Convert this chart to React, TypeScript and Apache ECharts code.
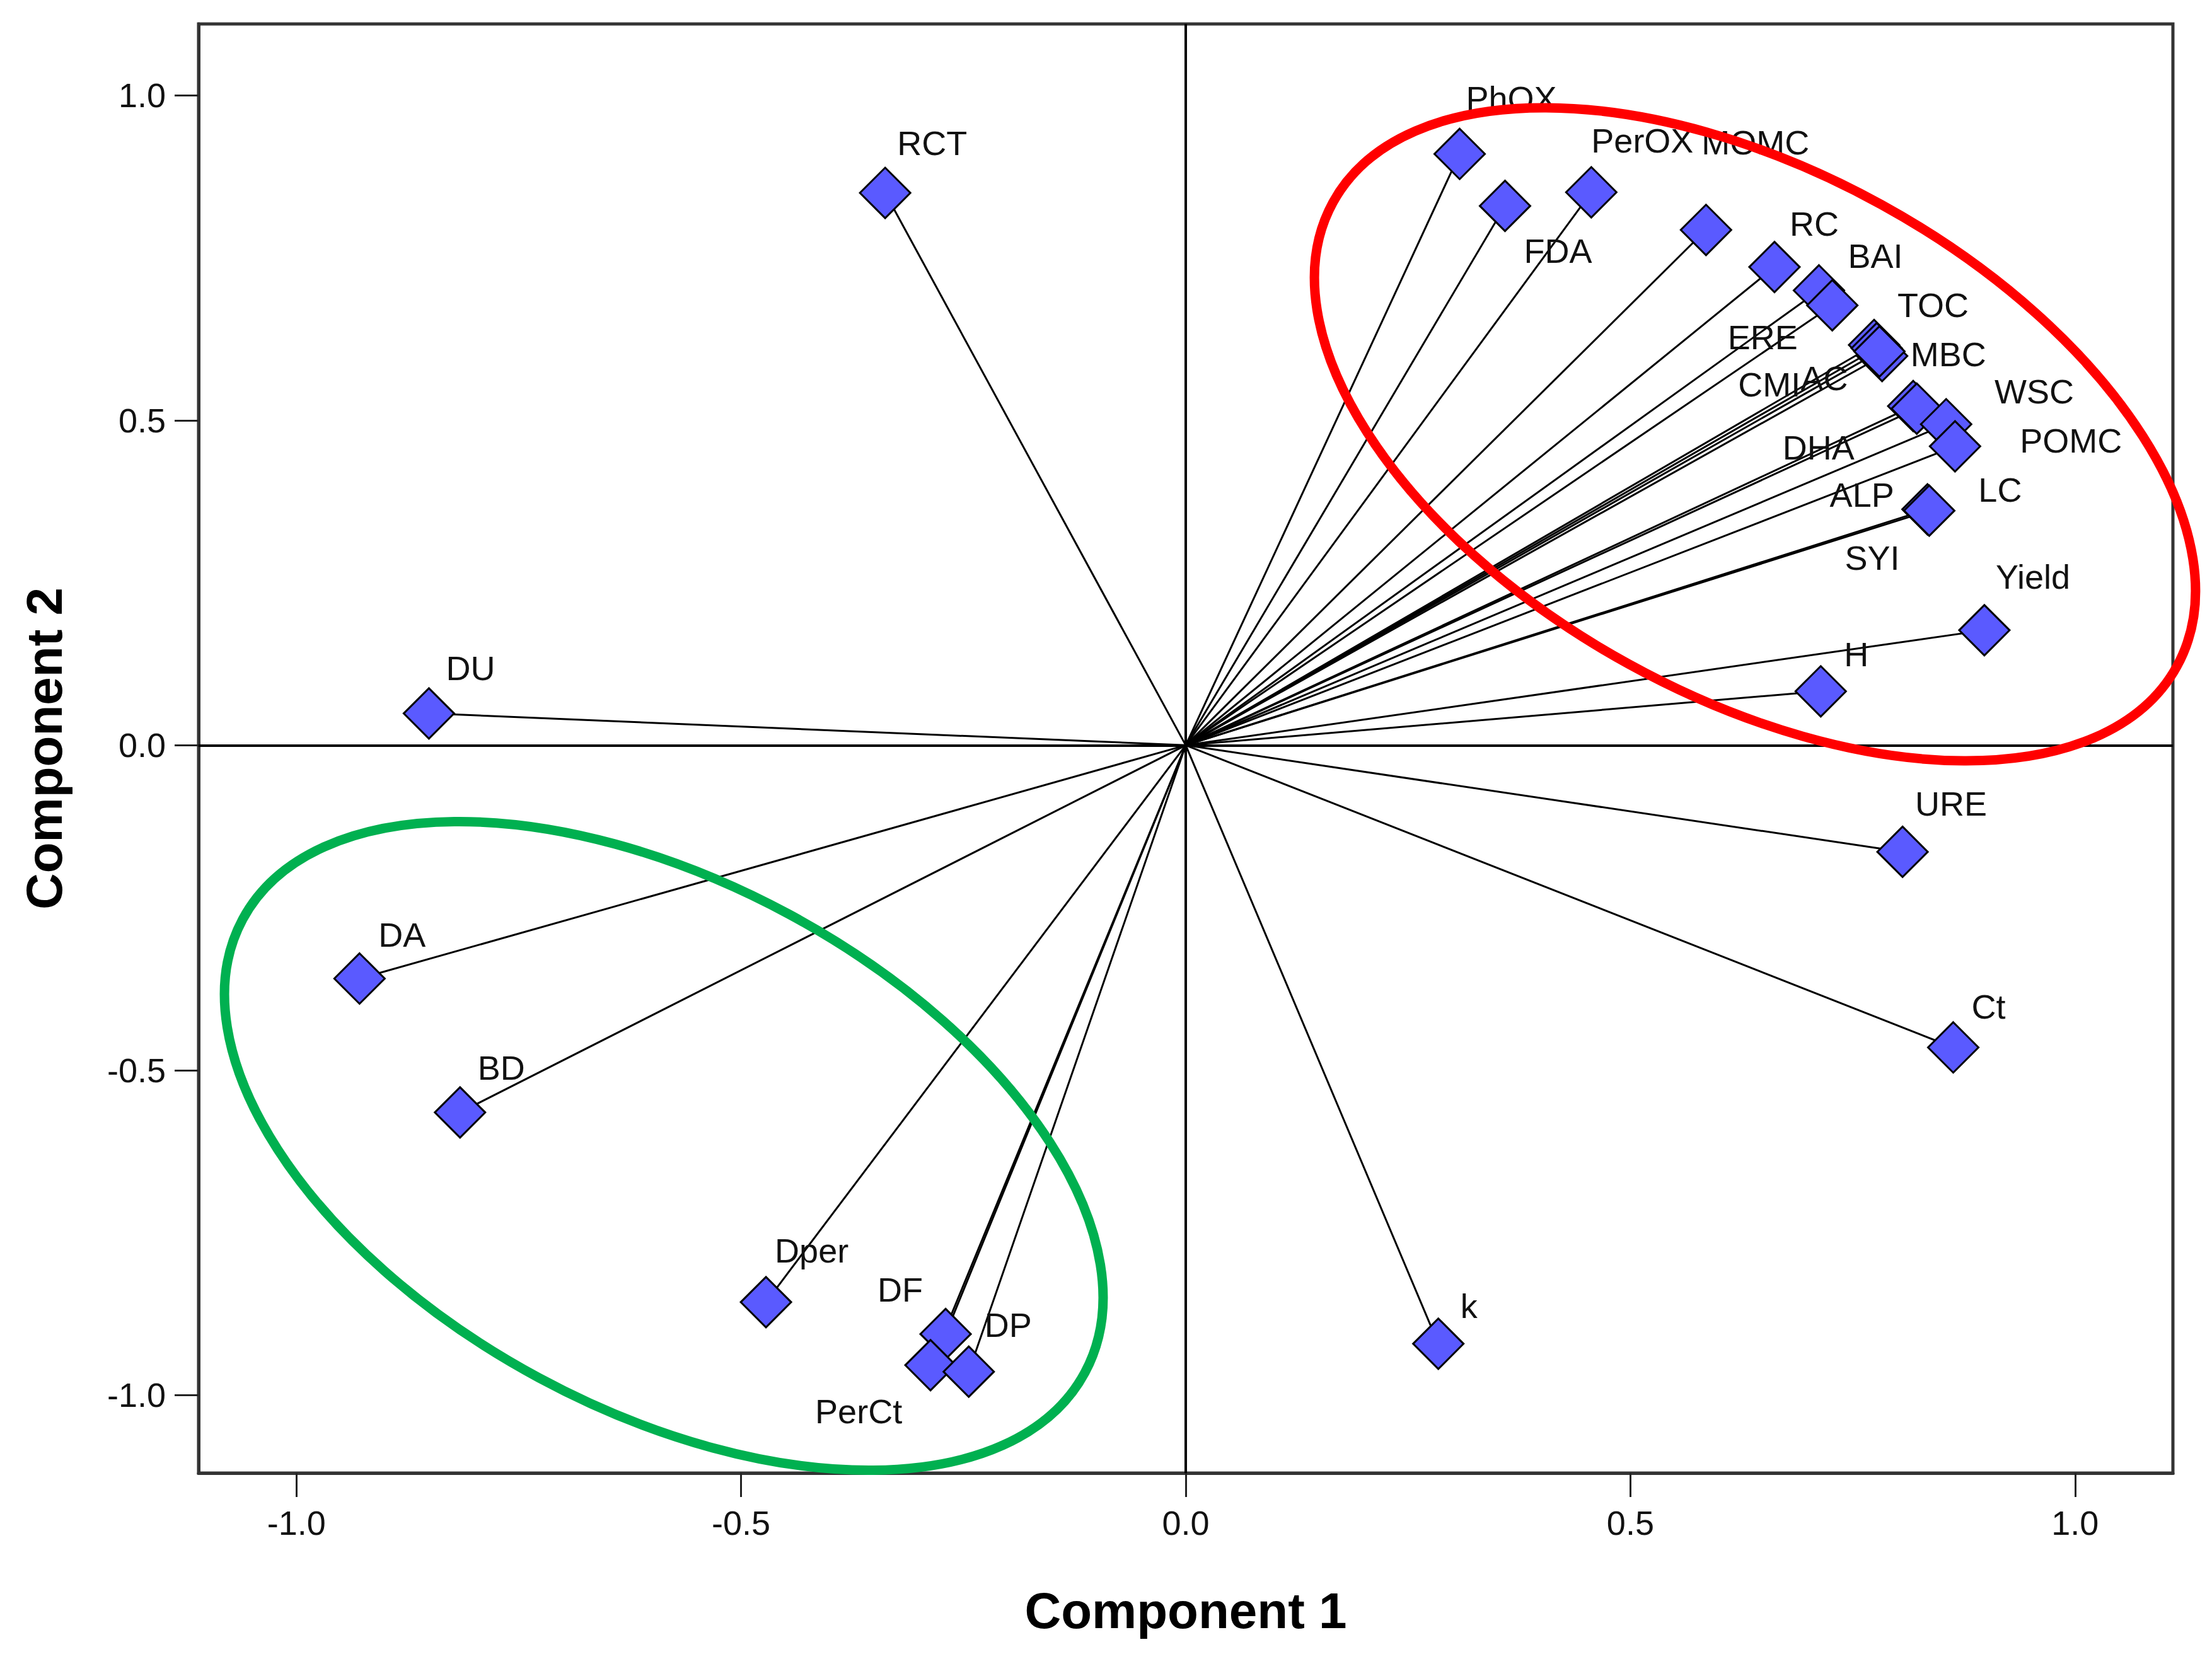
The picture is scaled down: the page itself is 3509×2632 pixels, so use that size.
import React, { useEffect, useRef } from "react";
import * as echarts from "echarts";

// ---- data (component loadings) ----
const variables = [
  "RCT", "DU", "DA", "BD", "Dper", "DF", "PerCt", "DP", "k", "URE", "Ct", "H", "Yield",
  "PhOX", "FDA", "PerOX", "MOMC", "RC", "BAI", "ERE", "TOC", "MBC", "CMI", "AC",
  "WSC", "DHA", "POMC", "LC", "ALP", "SYI",
];
const component1 = [
  -0.338, -0.851, -0.929, -0.816, -0.472, -0.27, -0.287, -0.244, 0.284, 0.806, 0.863, 0.714, 0.898,
  0.308, 0.359, 0.456, 0.585, 0.662, 0.712, 0.727, 0.774, 0.783, 0.777, 0.78,
  0.818, 0.822, 0.855, 0.865, 0.834, 0.836,
];
const component2 = [
  0.85, 0.049, -0.359, -0.565, -0.857, -0.906, -0.954, -0.964, -0.921, -0.164, -0.465, 0.083, 0.177,
  0.91, 0.83, 0.851, 0.793, 0.736, 0.7, 0.677, 0.616, 0.599, 0.611, 0.606,
  0.522, 0.518, 0.494, 0.46, 0.363, 0.361,
];
const xTicks = [-1, -0.5, 0, 0.5, 1];
const yTicks = [-1, -0.5, 0, 0.5, 1];
const xTitle = "Component 1";
const yTitle = "Component 2";

// ---- label placement (style): [left-edge dx, centre dy] from the marker centre, px ----
const defaultLabelOffset: [number, number] = [25, -72];
const labelOffsets: Record<string, [number, number]> = {
  RCT: [19, -79], DU: [27, -72], DA: [30, -69], BD: [28, -71], Dper: [14, -82],
  DF: [-108, -70], PerCt: [-183, 73], DP: [25, -74], k: [35, -60], URE: [20, -76],
  Ct: [29, -65], H: [37, -59], Yield: [18, -85], PhOX: [10, -88], FDA: [30, 71],
  PerOX: [0, -82], MOMC: [-7, -139], RC: [24, -69], BAI: [46, -55], ERE: [-166, 51],
  TOC: [37, -63], MBC: [45, -3], CMI: [-220, 58], AC: [-125, 42], WSC: [129, -23],
  DHA: [-213, 62], POMC: [117, 26], LC: [37, 69], ALP: [-155, -23], SYI: [-134, 75],
};

const FONT = "Liberation Sans, Arial, sans-serif";

export default function App() {
  const ref = useRef<HTMLDivElement>(null);

  useEffect(() => {
    document.body.style.margin = "0";
    if (!ref.current) return;
    const chart = echarts.init(ref.current, undefined, { renderer: "svg" });

    const points = variables.map((n, i) => [component1[i], component2[i], n]);

    const axisCommon = {
      type: "value" as const,
      nameLocation: "middle" as const,
      nameTextStyle: { fontFamily: FONT, fontSize: 80, fontWeight: "bold", color: "#000" },
      axisLine: { show: true, onZero: false, lineStyle: { color: "#333", width: 5 } },
      axisTick: { show: true, inside: false, length: 38, lineStyle: { color: "#222", width: 3 } },
      axisLabel: {
        show: true,
        margin: 52,
        fontFamily: FONT,
        fontSize: 54,
        color: "#111",
        formatter: (v: number) => v.toFixed(1),
      },
      splitLine: { show: false },
    };

    chart.setOption({
      animation: false,
      backgroundColor: "#fff",
      grid: {
        left: 315,
        right: 62,
        top: 38,
        bottom: 295,
        show: true,
        borderColor: "#333",
        borderWidth: 5,
        backgroundColor: "transparent",
      },
      xAxis: {
        ...axisCommon,
        min: -1.11,
        max: 1.11,
        name: xTitle,
        nameGap: 178,
        axisTick: { ...axisCommon.axisTick, customValues: xTicks },
        axisLabel: { ...axisCommon.axisLabel, customValues: xTicks },
      },
      yAxis: {
        ...axisCommon,
        min: -1.12,
        max: 1.11,
        name: yTitle,
        nameGap: 205,
        nameRotate: 90,
        axisTick: { ...axisCommon.axisTick, customValues: yTicks },
        axisLabel: { ...axisCommon.axisLabel, customValues: yTicks },
      },
      series: [
        {
          type: "custom",
          silent: true,
          z: 2,
          data: points,
          encode: { x: 0, y: 1 },
          renderItem: (_params: any, api: any) => {
            const p0 = api.coord([0, 0]);
            const p1 = api.coord([api.value(0), api.value(1)]);
            return {
              type: "line",
              shape: { x1: p0[0], y1: p0[1], x2: p1[0], y2: p1[1] },
              style: { stroke: "#000", lineWidth: 3 },
            };
          },
          markLine: {
            silent: true,
            symbol: "none",
            label: { show: false },
            lineStyle: { color: "#000", width: 4, type: "solid" },
            data: [{ xAxis: 0 }, { yAxis: 0 }],
          },
        },
        {
          type: "scatter",
          z: 3,
          symbol: "diamond",
          symbolSize: 80,
          itemStyle: { color: "#5a5aff", borderColor: "#000", borderWidth: 3, opacity: 1 },
          label: {
            show: true,
            position: "inside",
            align: "left",
            verticalAlign: "middle",
            fontFamily: FONT,
            fontSize: 54,
            color: "#111",
            formatter: (p: any) => p.data.name,
          },
          data: points.map((p) => {
            const name = p[2] as string;
            return {
              name,
              value: [p[0], p[1]],
              label: { offset: labelOffsets[name] || defaultLabelOffset },
            };
          }),
        },
      ],
      graphic: [
        {
          type: "ellipse",
          silent: true,
          z: 100,
          x: 2784,
          y: 689,
          rotation: (-28.8 * Math.PI) / 180,
          shape: { cx: 0, cy: 0, rx: 764, ry: 416 },
          style: { fill: "none", stroke: "#ff0000", lineWidth: 15 },
        },
        {
          type: "ellipse",
          silent: true,
          z: 100,
          x: 1053,
          y: 1818,
          rotation: (-28.3 * Math.PI) / 180,
          shape: { cx: 0, cy: 0, rx: 759, ry: 418 },
          style: { fill: "none", stroke: "#00b050", lineWidth: 15 },
        },
      ],
    });

    return () => chart.dispose();
  }, []);

  return <div ref={ref} style={{ width: 3509, height: 2632 }} />;
}
